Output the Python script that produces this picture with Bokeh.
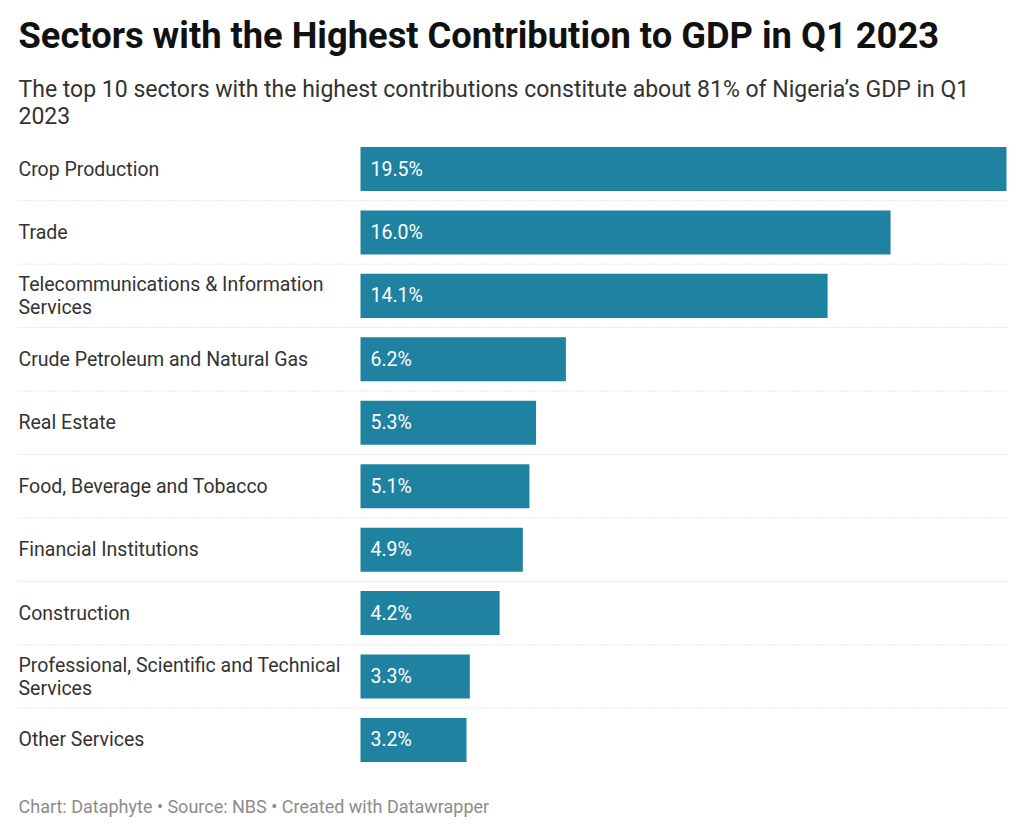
from bokeh.plotting import figure
from bokeh.models import Range1d, Label, ColumnDataSource
from bokeh.core.properties import value
from bokeh.embed import file_html
from bokeh.resources import INLINE

sectors = [
    "Crop Production",
    "Trade",
    "Telecommunications & Information\nServices",
    "Crude Petroleum and Natural Gas",
    "Real Estate",
    "Food, Beverage and Tobacco",
    "Financial Institutions",
    "Construction",
    "Professional, Scientific and Technical\nServices",
    "Other Services",
]
shares = [19.5, 16.0, 14.1, 6.2, 5.3, 5.1, 4.9, 4.2, 3.3, 3.2]
value_labels = [f"{v:.1f}%" for v in shares]

title = "Sectors with the Highest Contribution to GDP in Q1 2023"
subtitle1 = "The top 10 sectors with the highest contributions constitute about 81% of Nigeria\u2019s GDP in Q1"
subtitle2 = "2023"
footer = "Chart: Dataphyte \u2022 Source: NBS \u2022 Created with Datawrapper"

W, H = 1016, 826
LEFT = 18
PX0 = 360.0
PXMAX = 1006.0
XMAX = max(shares)
scale = (PXMAX - PX0) / XMAX
x_start = -PX0 / scale
x_end = (W - PX0) / scale
ROW0 = 168.5
PITCH = 63.44
y_top = -ROW0 / PITCH
y_bottom = (H - ROW0) / PITCH

rows = list(range(len(sectors)))
src = ColumnDataSource(dict(y=rows, share=shares, sector=sectors, lab=value_labels))

p = figure(width=W, height=H, output_backend="svg", toolbar_location=None,
           x_range=Range1d(x_start, x_end), y_range=Range1d(y_bottom, y_top),
           min_border=0, x_axis_location=None, y_axis_location=None)
p.outline_line_color = None
p.grid.visible = False
p.background_fill_color = "white"
p.border_fill_color = "white"

# separators
sep_y = [r + 0.5 for r in rows[:-1]]
x_left = (LEFT - PX0) / scale
p.segment(x0=[x_left] * len(sep_y), x1=[XMAX] * len(sep_y), y0=sep_y, y1=sep_y,
          line_color="#cfcfcf", line_width=1, line_dash="1 2")

p.hbar(y="y", left=0, right="share", height=0.694, source=src,
       fill_color="#1f82a1", line_color=None)

p.text(x=0, y="y", text="lab", source=src, x_offset=10,
       text_font=value("Roboto"), text_font_size="19.5px", text_color="white",
       text_align="left", text_baseline="middle")

p.text(x=0, y="y", text="sector", source=src, x_offset=-(PX0 - LEFT),
       text_font=value("Roboto"), text_font_size="19.5px", text_color="#333333",
       text_align="left", text_baseline="middle", text_line_height=1.0)

p.add_layout(Label(x=LEFT, y=H - 35, x_units="screen", y_units="screen", text=title,
                   text_font="Roboto", text_font_size="36.3px", text_font_style="bold",
                   text_color="#111111", text_baseline="middle"))
p.add_layout(Label(x=LEFT, y=H - 88.5, x_units="screen", y_units="screen", text=subtitle1,
                   text_font="Roboto", text_font_size="23px",
                   text_color="#333333", text_baseline="middle"))
p.add_layout(Label(x=LEFT, y=H - 115, x_units="screen", y_units="screen", text=subtitle2,
                   text_font="Roboto", text_font_size="23px",
                   text_color="#333333", text_baseline="middle"))
p.add_layout(Label(x=LEFT, y=H - 806, x_units="screen", y_units="screen", text=footer,
                   text_font="Roboto", text_font_size="18px",
                   text_color="#8c8c8c", text_baseline="middle"))

open("out.html", "w").write(file_html(p, INLINE))
